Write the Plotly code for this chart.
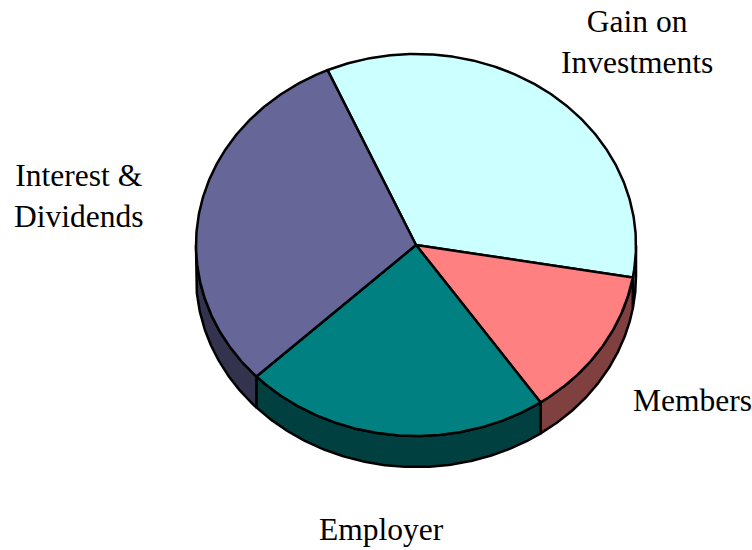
import math
import plotly.graph_objects as go

categories = ["Gain on<br>Investments", "Members", "Employer", "Interest &<br>Dividends"]
values = [34.3, 12.7, 22.5, 30.5]
top_colors = ["#CCFFFF", "#FF8080", "#008080", "#666699"]
side_colors = ["#668080", "#804040", "#004040", "#33334D"]
start_deg = 336.3
aspect = 191 / 220
depth = 31 / 220
label_xy = [(1.005, 0.923), (1.255, -0.705), (-0.159, -1.295), (-1.532, 0.222)]

W, H = 752, 550
cx, cy = 416, 245
rx = 220

def pt(a, drop=0.0):
    t = math.radians(a)
    return math.sin(t), math.cos(t) * aspect - drop

def frange(a, b):
    n = max(2, int((b - a) * 2))
    return [a + (b - a) * i / n for i in range(n + 1)]

fig = go.Figure()
total = sum(values)
spans = []
a = start_deg
for v in values:
    spans.append((a, a + v / total * 360))
    a += v / total * 360

line = dict(color="black", width=2.5)
for (a0, a1), col in zip(spans, side_colors):
    # visible side wall: rim on the lower half (90..270 deg, one turn on from the start angle)
    lo, hi = max(a0, 450), min(a1, 630)
    if lo >= hi:
        continue
    arc = frange(lo, hi)
    top = [pt(x) for x in arc]
    bot = [pt(x, depth) for x in reversed(arc)]
    poly = top + bot + top[:1]
    fig.add_trace(go.Scatter(x=[p[0] for p in poly], y=[p[1] for p in poly], mode="lines",
                             fill="toself", fillcolor=col, line=line, hoverinfo="skip"))

for (a0, a1), col, name in zip(spans, top_colors, categories):
    rim = [pt(x) for x in frange(a0, a1)]
    poly = [(0, 0)] + rim + [(0, 0)]
    fig.add_trace(go.Scatter(x=[p[0] for p in poly], y=[p[1] for p in poly], mode="lines",
                             fill="toself", fillcolor=col, line=line, name=name.replace("<br>", " "),
                             hoverinfo="name"))

for name, (x, y) in zip(categories, label_xy):
    fig.add_annotation(x=x, y=y, text=name, showarrow=False, xanchor="center", yanchor="middle",
                       font=dict(family="Liberation Serif", size=31.5, color="black"))

fig.update_xaxes(visible=False, range=[-cx / rx, (W - cx) / rx], fixedrange=True)
fig.update_yaxes(visible=False, range=[-(H - cy) / rx, cy / rx], fixedrange=True)
fig.update_layout(width=W, height=H, margin=dict(l=0, r=0, t=0, b=0), showlegend=False,
                  paper_bgcolor="white", plot_bgcolor="white")
fig.write_html("out.html", config={"displayModeBar": False}, default_width="752px", default_height="550px",
               post_script="document.body.style.margin='0';document.body.style.overflow='hidden';")
